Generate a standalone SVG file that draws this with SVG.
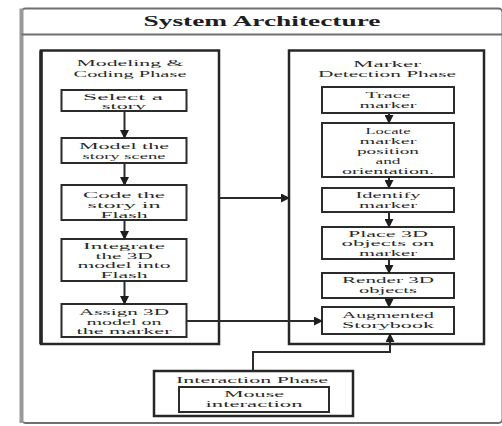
<svg xmlns="http://www.w3.org/2000/svg" width="502" height="426" viewBox="0 0 502 426">
  <style>
    .frame { fill: none; stroke: #6f6f6f; stroke-width: 2; }
    .phase { fill: none; stroke: #262626; stroke-width: 2.5; }
    .box { fill: #ffffff; stroke: #2b2b2b; stroke-width: 2; }
    .wire { fill: none; stroke: #2b2b2b; stroke-width: 2; }
    text { font-family: "Liberation Serif", "Times New Roman", serif; font-size: 9px; fill: #2a2a2a; text-anchor: middle; }
    .title { font-size: 14px; font-weight: bold; fill: #1e1e1e; }
  </style>
  <defs>
    <marker id="arrow" markerUnits="userSpaceOnUse" markerWidth="9" markerHeight="9" refX="8" refY="4.5" orient="auto">
      <path d="M0,0 L9,4.5 L0,9 z" fill="#1e1e1e"/>
    </marker>
  </defs>

  <rect width="502" height="426" fill="#ffffff"/>

  <!-- outer frame with title band -->
  <g id="frame">
    <rect class="frame" x="21.5" y="8.5" width="481" height="414.5" rx="4"/>
    <line x1="21.5" y1="8.5" x2="21.5" y2="423" stroke="#9a9a9a" stroke-width="4"/>
    <line class="frame" x1="21.5" y1="34.5" x2="502" y2="34.5" stroke-width="1.5"/>
    <text class="title" x="262" y="26" textLength="237" lengthAdjust="spacingAndGlyphs">System Architecture</text>
  </g>

  <!-- modeling & coding phase -->
  <g id="modeling-phase">
    <rect class="phase" x="41" y="50.5" width="178" height="293.5"/>
    <line x1="41" y1="50.5" x2="41" y2="344" stroke="#262626" stroke-width="3.5"/>
    <text x="130" y="66" textLength="107" lengthAdjust="spacingAndGlyphs">Modeling &amp;</text>
    <text x="130" y="76.5" textLength="113" lengthAdjust="spacingAndGlyphs">Coding Phase</text>
  </g>
  <g id="select-story">
    <rect class="box" x="61.5" y="90" width="125" height="21"/>
    <text x="123" y="99.5" textLength="80" lengthAdjust="spacingAndGlyphs">Select a</text>
    <text x="124" y="109" textLength="44" lengthAdjust="spacingAndGlyphs">story</text>
  </g>
  <g id="model-scene">
    <rect class="box" x="61.5" y="138" width="125" height="25"/>
    <text x="124" y="149" textLength="90" lengthAdjust="spacingAndGlyphs">Model the</text>
    <text x="124" y="159" textLength="83" lengthAdjust="spacingAndGlyphs">story scene</text>
  </g>
  <g id="code-flash">
    <rect class="box" x="61.5" y="185" width="125" height="35"/>
    <text x="124" y="197.5" textLength="82" lengthAdjust="spacingAndGlyphs">Code the</text>
    <text x="124" y="207.5" textLength="73" lengthAdjust="spacingAndGlyphs">story in</text>
    <text x="124" y="217.5" textLength="47" lengthAdjust="spacingAndGlyphs">Flash</text>
  </g>
  <g id="integrate-model">
    <rect class="box" x="61.5" y="239" width="125" height="42"/>
    <text x="124" y="249" textLength="82" lengthAdjust="spacingAndGlyphs">Integrate</text>
    <text x="124" y="258.5" textLength="57" lengthAdjust="spacingAndGlyphs">the 3D</text>
    <text x="124" y="268" textLength="93" lengthAdjust="spacingAndGlyphs">model into</text>
    <text x="124" y="277.5" textLength="47" lengthAdjust="spacingAndGlyphs">Flash</text>
  </g>
  <g id="assign-model">
    <rect class="box" x="61.5" y="304" width="125" height="33"/>
    <text x="124" y="315" textLength="90" lengthAdjust="spacingAndGlyphs">Assign 3D</text>
    <text x="124" y="324.5" textLength="75" lengthAdjust="spacingAndGlyphs">model on</text>
    <text x="124" y="334" textLength="95" lengthAdjust="spacingAndGlyphs">the marker</text>
  </g>

  <!-- marker detection phase -->
  <g id="detection-phase">
    <rect class="phase" x="289" y="50.5" width="195" height="293.5"/>
    <text x="387" y="66.5" textLength="68" lengthAdjust="spacingAndGlyphs">Marker</text>
    <text x="387" y="76.5" textLength="138" lengthAdjust="spacingAndGlyphs">Detection Phase</text>
  </g>
  <g id="trace-marker">
    <rect class="box" x="322" y="87" width="132" height="26"/>
    <text x="388" y="98" textLength="45" lengthAdjust="spacingAndGlyphs">Trace</text>
    <text x="388" y="108" textLength="57" lengthAdjust="spacingAndGlyphs">marker</text>
  </g>
  <g id="locate-marker">
    <rect class="box" x="322" y="123" width="132" height="54"/>
    <text x="388" y="133.5" textLength="45" lengthAdjust="spacingAndGlyphs">Locate</text>
    <text x="388" y="143.5" textLength="57" lengthAdjust="spacingAndGlyphs">marker</text>
    <text x="388" y="153.5" textLength="62" lengthAdjust="spacingAndGlyphs">position</text>
    <text x="388" y="163.5" textLength="25" lengthAdjust="spacingAndGlyphs">and</text>
    <text x="388" y="173.5" textLength="92" lengthAdjust="spacingAndGlyphs">orientation.</text>
  </g>
  <g id="identify-marker">
    <rect class="box" x="322" y="188" width="132" height="24"/>
    <text x="388" y="198" textLength="65" lengthAdjust="spacingAndGlyphs">Identify</text>
    <text x="388" y="208" textLength="58" lengthAdjust="spacingAndGlyphs">marker</text>
  </g>
  <g id="place-objects">
    <rect class="box" x="322" y="227" width="132" height="32"/>
    <text x="388" y="236.5" textLength="80" lengthAdjust="spacingAndGlyphs">Place 3D</text>
    <text x="388" y="246" textLength="93" lengthAdjust="spacingAndGlyphs">objects on</text>
    <text x="388" y="255.5" textLength="58" lengthAdjust="spacingAndGlyphs">marker</text>
  </g>
  <g id="render-objects">
    <rect class="box" x="322" y="273" width="132" height="25"/>
    <text x="388" y="283" textLength="92" lengthAdjust="spacingAndGlyphs">Render 3D</text>
    <text x="388" y="293" textLength="58" lengthAdjust="spacingAndGlyphs">objects</text>
  </g>
  <g id="augmented-storybook">
    <rect class="box" x="322" y="307" width="132" height="27"/>
    <text x="388" y="318" textLength="92" lengthAdjust="spacingAndGlyphs">Augmented</text>
    <text x="388" y="328" textLength="92" lengthAdjust="spacingAndGlyphs">Storybook</text>
  </g>

  <!-- interaction phase -->
  <g id="interaction-phase">
    <rect class="phase" x="154" y="371" width="199" height="45"/>
    <text x="252" y="382.5" textLength="152" lengthAdjust="spacingAndGlyphs">Interaction Phase</text>
  </g>
  <g id="mouse-interaction">
    <rect class="box" x="179" y="387" width="150" height="25"/>
    <text x="254" y="397" textLength="60" lengthAdjust="spacingAndGlyphs">Mouse</text>
    <text x="254" y="407" textLength="97" lengthAdjust="spacingAndGlyphs">interaction</text>
  </g>

  <!-- connectors -->
  <g id="connectors">
    <line class="wire" x1="124.5" y1="111" x2="124.5" y2="138" marker-end="url(#arrow)"/>
    <line class="wire" x1="124.5" y1="163" x2="124.5" y2="185" marker-end="url(#arrow)"/>
    <line class="wire" x1="124.5" y1="220" x2="124.5" y2="239" marker-end="url(#arrow)"/>
    <line class="wire" x1="124.5" y1="281" x2="124.5" y2="304" marker-end="url(#arrow)"/>
    <line class="wire" x1="219" y1="198" x2="289" y2="198" marker-end="url(#arrow)"/>
    <line class="wire" x1="186.5" y1="321" x2="322" y2="321" marker-end="url(#arrow)"/>
    <line class="wire" x1="389" y1="113" x2="389" y2="123" marker-end="url(#arrow)"/>
    <line class="wire" x1="389" y1="177" x2="389" y2="188" marker-end="url(#arrow)"/>
    <line class="wire" x1="389" y1="212" x2="389" y2="227" marker-end="url(#arrow)"/>
    <line class="wire" x1="389" y1="259" x2="389" y2="273" marker-end="url(#arrow)"/>
    <line class="wire" x1="389" y1="298" x2="389" y2="307" marker-end="url(#arrow)"/>
    <polyline class="wire" points="253,371 253,352 390,352 390,334" marker-end="url(#arrow)"/>
  </g>
</svg>
